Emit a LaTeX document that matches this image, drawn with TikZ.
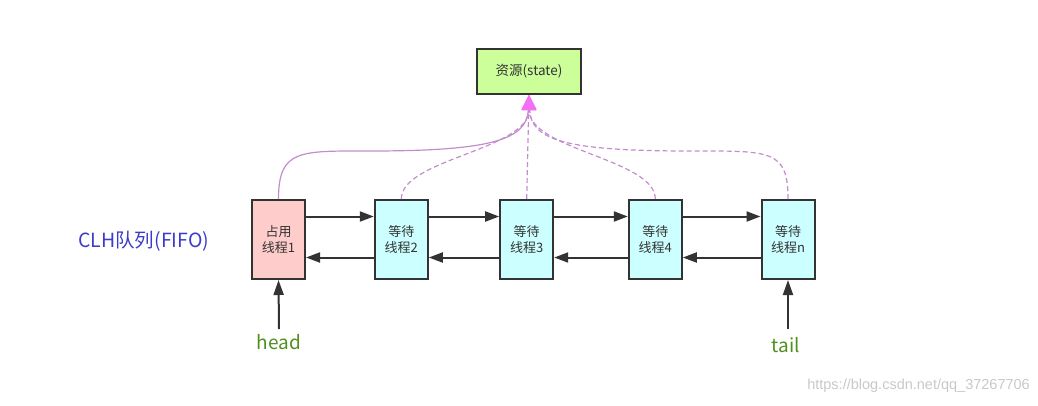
\documentclass[tikz,border=0pt]{standalone}
\usepackage{fontspec}
\setmainfont{Noto Sans CJK SC}
\newfontfamily\wmfont{Liberation Sans}
\usetikzlibrary{arrows.meta}
\definecolor{boxline}{HTML}{333333}
\definecolor{holdfill}{HTML}{FFCCCC}
\definecolor{waitfill}{HTML}{CCFFFF}
\definecolor{resfill}{HTML}{CCFF99}
\definecolor{curvecol}{RGB}{195,140,205}
\definecolor{arrowmag}{RGB}{245,110,245}
\definecolor{clhblue}{RGB}{60,60,200}
\definecolor{labgreen}{RGB}{80,145,30}
\definecolor{wmgray}{RGB}{200,200,200}
\tikzset{
  x=1pt, y=-1pt,
  thread/.style={draw=boxline, line width=2pt, minimum width=53pt, minimum height=79pt,
    inner sep=0pt, align=center, text=boxline, font=\fontsize{13}{16.5}\selectfont},
  resbox/.style={draw=boxline, line width=2pt, fill=resfill, minimum width=104pt, minimum height=45pt,
    inner sep=0pt, text=boxline, font=\fontsize{13.5}{16}\selectfont},
  link/.style={draw=boxline, line width=2pt, -{Triangle[length=14pt,width=10pt]}},
  usecurve/.style={draw=curvecol, line width=1.2pt, -{Triangle[length=15pt,width=14pt,color=arrowmag]}},
  waitcurve/.style={usecurve, dashed, dash pattern=on 5pt off 3pt},
  ptr/.style={draw=boxline, line width=2pt, -{Triangle[length=15pt,width=10pt]}},
  ptrlabel/.style={text=labgreen, font=\fontsize{19}{22}\selectfont},
}
\begin{document}
\begin{tikzpicture}
\useasboundingbox (0,0) rectangle (1038,405);
\node[resbox] (res) at (529,71.5) {资源(state)};
\node[thread, fill=holdfill] (n1) at (278.5,239.5) {占用\\线程1};
\node[thread, fill=waitfill] (n2) at (401.3,239.5) {等待\\线程2};
\node[thread, fill=waitfill] (n3) at (526.7,239.5) {等待\\线程3};
\node[thread, fill=waitfill] (n4) at (655.3,239.5) {等待\\线程4};
\node[thread, fill=waitfill] (n5) at (788,239.5) {等待\\线程n};
% forward / backward links
\foreach \a/\b in {n1/n2,n2/n3,n3/n4,n4/n5}{
  \draw[link] ([yshift=23pt]\a.east) -- ([yshift=23pt]\b.west);
  \draw[link] ([yshift=-18pt]\b.west) -- ([yshift=-18pt]\a.east);
}
% curves to resource
\coordinate (tip) at (529,95);
\draw[waitcurve] (n5.north) .. controls ([yshift=50pt]n5.north) and (770,151) .. (690,151)
   .. controls (565,151) and (531,140) .. (tip);
\draw[waitcurve] (n4.north) .. controls ([yshift=40pt]n4.north) and (529,150) .. (tip);
\draw[waitcurve] (n3.north) -- (tip);
\draw[waitcurve] (n2.north) .. controls ([yshift=40pt]n2.north) and (529,150) .. (tip);
\draw[usecurve] (n1.north) .. controls ([yshift=50pt]n1.north) and (300,151) .. (370,151)
   .. controls (490,151) and (527,140) .. (tip);
% label
\node[anchor=west, text=clhblue, font=\fontsize{19.5}{22}\selectfont, inner sep=0pt] (clh) at (78,241) {CLH队列(FIFO)};
% head / tail
\node[ptrlabel] (head) at (279,342) {head};
\node[ptrlabel] (tail) at (786,345) {tail};
\coordinate (hs) at (279,329);
\coordinate (ts) at (788,329);
\draw[ptr] (hs) -- (n1.south);
\draw[ptr] (ts) -- (n5.south);
\node[anchor=east, text=wmgray, font=\wmfont\fontsize{14.5}{16}\selectfont, inner sep=0pt] (wm) at (1030,386) {https://blog.csdn.net/qq\_37267706};
\end{tikzpicture}
\end{document}
